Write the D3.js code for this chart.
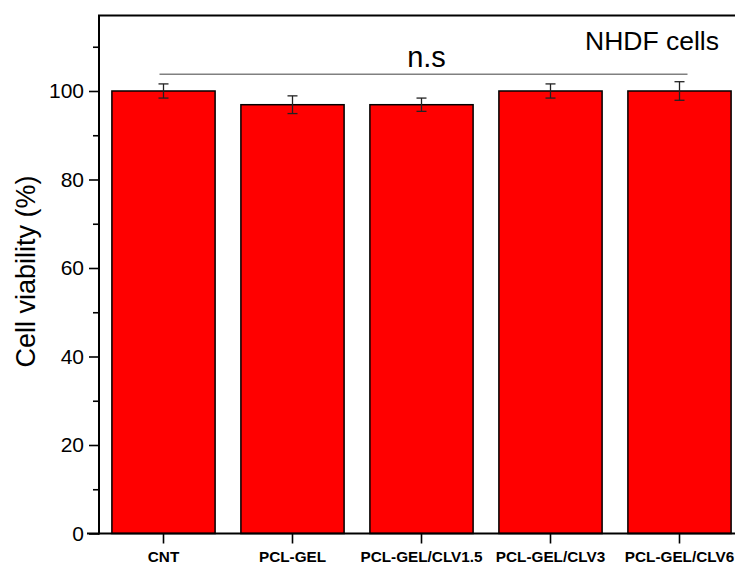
<!DOCTYPE html>
<html>
<head>
<meta charset="utf-8">
<script src="https://cdn.jsdelivr.net/npm/d3@7"></script>
<style>
  body { margin: 0; background: #fff; }
  svg { display: block; font-family: Arial, "Liberation Sans", sans-serif; }
</style>
</head>
<body>
<svg id="chart" width="735" height="565"></svg>
<script>
const categories = ["CNT", "PCL-GEL", "PCL-GEL/CLV1.5", "PCL-GEL/CLV3", "PCL-GEL/CLV6"];
const viability = [100, 96.9, 96.9, 100, 100];
const errors = [1.6, 2.0, 1.5, 1.6, 2.1];
const yMajorTicks = [0, 20, 40, 60, 80, 100];
const yMinorTicks = [10, 30, 50, 70, 90, 110];
const yLabel = "Cell viability (%)";
const annotation = "NHDF cells";
const sigLabel = "n.s";

const svg = d3.select("#chart");
const pLeft = 99, pRight = 744, pTop = 15.5, pBottom = 533.5;

const x = d3.scaleBand().domain(categories).range([pLeft, pRight]).paddingInner(0.2).paddingOuter(0.1);
const y = d3.scaleLinear().domain([0, 117.06]).range([pBottom, pTop]);

// bars
svg.append("g").selectAll("rect").data(categories).join("rect")
  .attr("x", d => x(d))
  .attr("y", (d, i) => y(viability[i]))
  .attr("width", x.bandwidth())
  .attr("height", (d, i) => y(0) - y(viability[i]))
  .attr("fill", "#ff0000")
  .attr("stroke", "#000")
  .attr("stroke-width", 1.5);

// error bars
const eg = svg.append("g").attr("stroke", "#222").attr("stroke-width", 1.3);
categories.forEach((c, i) => {
  const cx = x(c) + x.bandwidth() / 2;
  const y1 = y(viability[i] + errors[i]), y2 = y(viability[i] - errors[i]);
  eg.append("line").attr("x1", cx).attr("x2", cx).attr("y1", y1).attr("y2", y2);
  eg.append("line").attr("x1", cx - 5).attr("x2", cx + 5).attr("y1", y1).attr("y2", y1);
  eg.append("line").attr("x1", cx - 5).attr("x2", cx + 5).attr("y1", y2).attr("y2", y2);
});

// y axis
const yAxis = d3.axisLeft(y).tickValues(yMajorTicks).tickSize(10).tickPadding(5).tickSizeOuter(0);
const gy = svg.append("g").attr("transform", `translate(${pLeft},0)`).call(yAxis);
gy.select(".domain").remove();
gy.selectAll(".tick line").attr("stroke", "#000").attr("stroke-width", 1.6);
gy.selectAll(".tick text").attr("font-size", 21).attr("fill", "#000")
  .attr("font-family", "Arial, 'Liberation Sans', sans-serif");
const yMinor = d3.axisLeft(y).tickValues(yMinorTicks).tickSize(6).tickFormat("");
const gym = svg.append("g").attr("transform", `translate(${pLeft},0)`).call(yMinor);
gym.select(".domain").remove();
gym.selectAll(".tick line").attr("stroke", "#000").attr("stroke-width", 1.6);

// x axis
const xAxis = d3.axisBottom(x).tickSize(10).tickSizeOuter(0).tickPadding(9);
const gx = svg.append("g").attr("transform", `translate(0,${pBottom})`).call(xAxis);
gx.select(".domain").remove();
gx.selectAll(".tick line").attr("stroke", "#000").attr("stroke-width", 1.6);
gx.selectAll(".tick text").attr("font-size", 15.3).attr("font-weight", "bold").attr("fill", "#000")
  .attr("dy", 0).attr("y", 28.5)
  .attr("font-family", "Arial, 'Liberation Sans', sans-serif");

// frame lines (left and top, right is cut off)
svg.append("line").attr("x1", pLeft).attr("x2", pLeft).attr("y1", pTop).attr("y2", pBottom + 1)
  .attr("stroke", "#000").attr("stroke-width", 2);
svg.append("line").attr("x1", pLeft - 1).attr("x2", 735).attr("y1", pTop).attr("y2", pTop)
  .attr("stroke", "#000").attr("stroke-width", 2);
svg.append("line").attr("x1", pLeft - 12).attr("x2", 735).attr("y1", pBottom).attr("y2", pBottom)
  .attr("stroke", "#000").attr("stroke-width", 1.8);

// significance line
const sigY = y(103.8);
const sx1 = x(categories[0]) + x.bandwidth() / 2 - 4;
const sx2 = x(categories[4]) + x.bandwidth() / 2 + 8;
svg.append("line").attr("x1", sx1).attr("x2", sx2).attr("y1", sigY).attr("y2", sigY)
  .attr("stroke", "#808080").attr("stroke-width", 1.5);
svg.append("text").attr("x", (sx1 + sx2) / 2 + 3).attr("y", 67).attr("text-anchor", "middle")
  .attr("font-size", 29).attr("fill", "#000").text(sigLabel);

// annotation
svg.append("text").attr("x", 585).attr("y", 50).attr("font-size", 26.5).attr("fill", "#000").text(annotation);

// y label
svg.append("text").attr("transform", `translate(35,${(pTop + pBottom) / 2 - 3}) rotate(-90)`)
  .attr("text-anchor", "middle").attr("font-size", 27).attr("fill", "#000").text(yLabel);
</script>
</body>
</html>
